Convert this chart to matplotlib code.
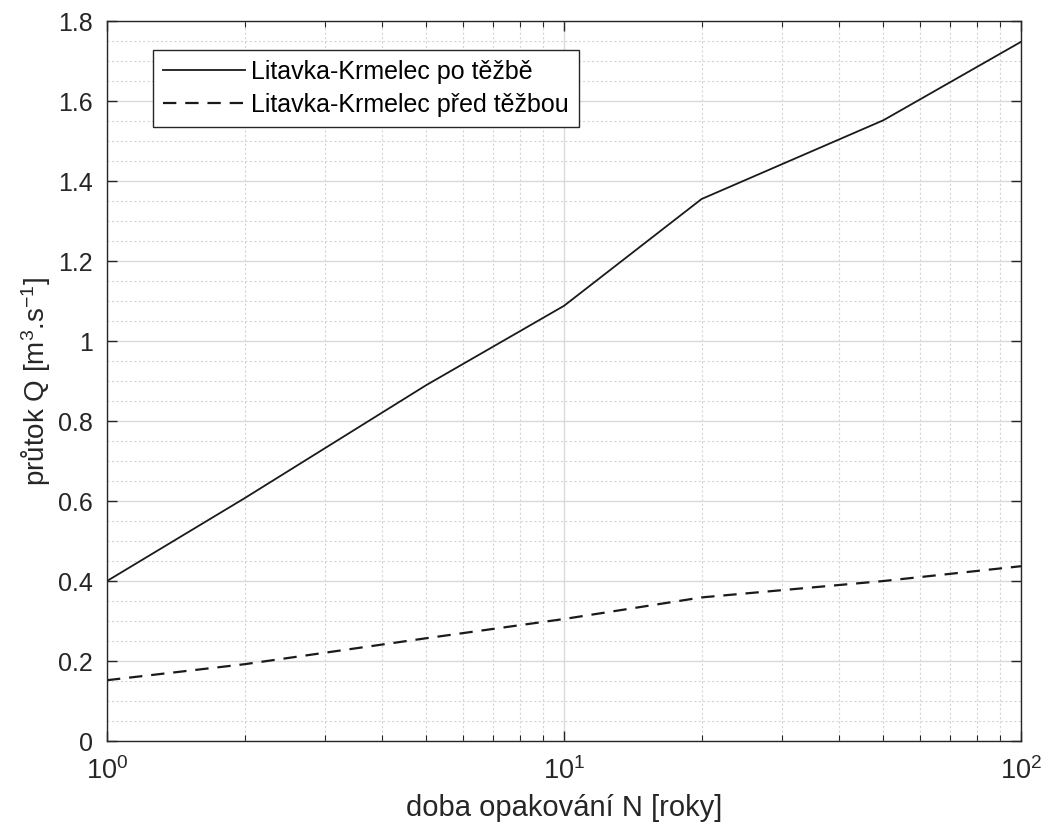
import numpy as np
import matplotlib
matplotlib.use('Agg')
from matplotlib import pyplot as plt
from matplotlib.ticker import MultipleLocator, LogLocator, NullFormatter, FormatStrFormatter

plt.rcParams['font.family'] = ['Liberation Sans', 'DejaVu Sans']
plt.rcParams['mathtext.fontset'] = 'custom'
plt.rcParams['mathtext.rm'] = 'Liberation Sans'
plt.rcParams['mathtext.default'] = 'regular'

# return period N [years]
N = [1, 2, 5, 10, 20, 50, 100]
# discharge after / before mining
q_po = [0.40, 0.607, 0.89, 1.088, 1.355, 1.552, 1.748]
q_pred = [0.152, 0.192, 0.257, 0.305, 0.359, 0.400, 0.437]

labels = ['Litavka-Krmelec po těžbě', 'Litavka-Krmelec před těžbou']

fig = plt.figure(figsize=(10.47, 8.34), dpi=100)
ax = fig.add_axes([0.1022, 0.1115, 0.8730, 0.8633])

ax.plot(N, q_po, color='#1a1a1a', lw=1.3, label=labels[0])
ax.plot(N, q_pred, color='#1a1a1a', lw=1.6, linestyle=(0, (6, 4)), label=labels[1])

ax.set_xscale('log')
ax.set_xlim(1, 100)
ax.set_ylim(0, 1.8)
ax.yaxis.set_major_locator(MultipleLocator(0.2))
ax.yaxis.set_minor_locator(MultipleLocator(0.05))
ax.yaxis.set_major_formatter(FormatStrFormatter('%g'))
ax.xaxis.set_minor_locator(LogLocator(base=10, subs=np.arange(2, 10)))
ax.xaxis.set_minor_formatter(NullFormatter())

ax.grid(which='major', color='#dadada', lw=1.0, linestyle='-')
ax.grid(which='minor', color='#d4d4d4', lw=0.8, linestyle=(0, (2, 2)))
ax.set_axisbelow(True)

ax.tick_params(which='both', direction='in', top=True, right=True, colors='#262626', labelsize=18)
ax.tick_params(which='major', length=7, width=1)
ax.tick_params(axis='x', which='minor', length=4, width=0.8)
ax.tick_params(axis='y', which='minor', length=0)
ax.tick_params(axis='x', labelsize=19.5, pad=12)
ax.tick_params(axis='y', pad=10)
for s in ax.spines.values():
    s.set_color('#262626')
    s.set_linewidth(1.0)

ax.set_xlabel('doba opakování N [roky]', fontsize=21, color='#262626', labelpad=6)
ax.set_ylabel('průtok Q [m$^{3}$.s$^{-1}$]', fontsize=20, color='#262626', labelpad=4)

leg = ax.legend(loc='upper left', bbox_to_anchor=(0.05, 0.96), fontsize=18,
                frameon=True, fancybox=False, framealpha=1, edgecolor='#262626',
                handlelength=3.3, handletextpad=0.25, borderpad=0.4, borderaxespad=0,
                labelspacing=0.36)
leg.get_frame().set_linewidth(1.0)

fig.savefig('out.png', dpi=100)
